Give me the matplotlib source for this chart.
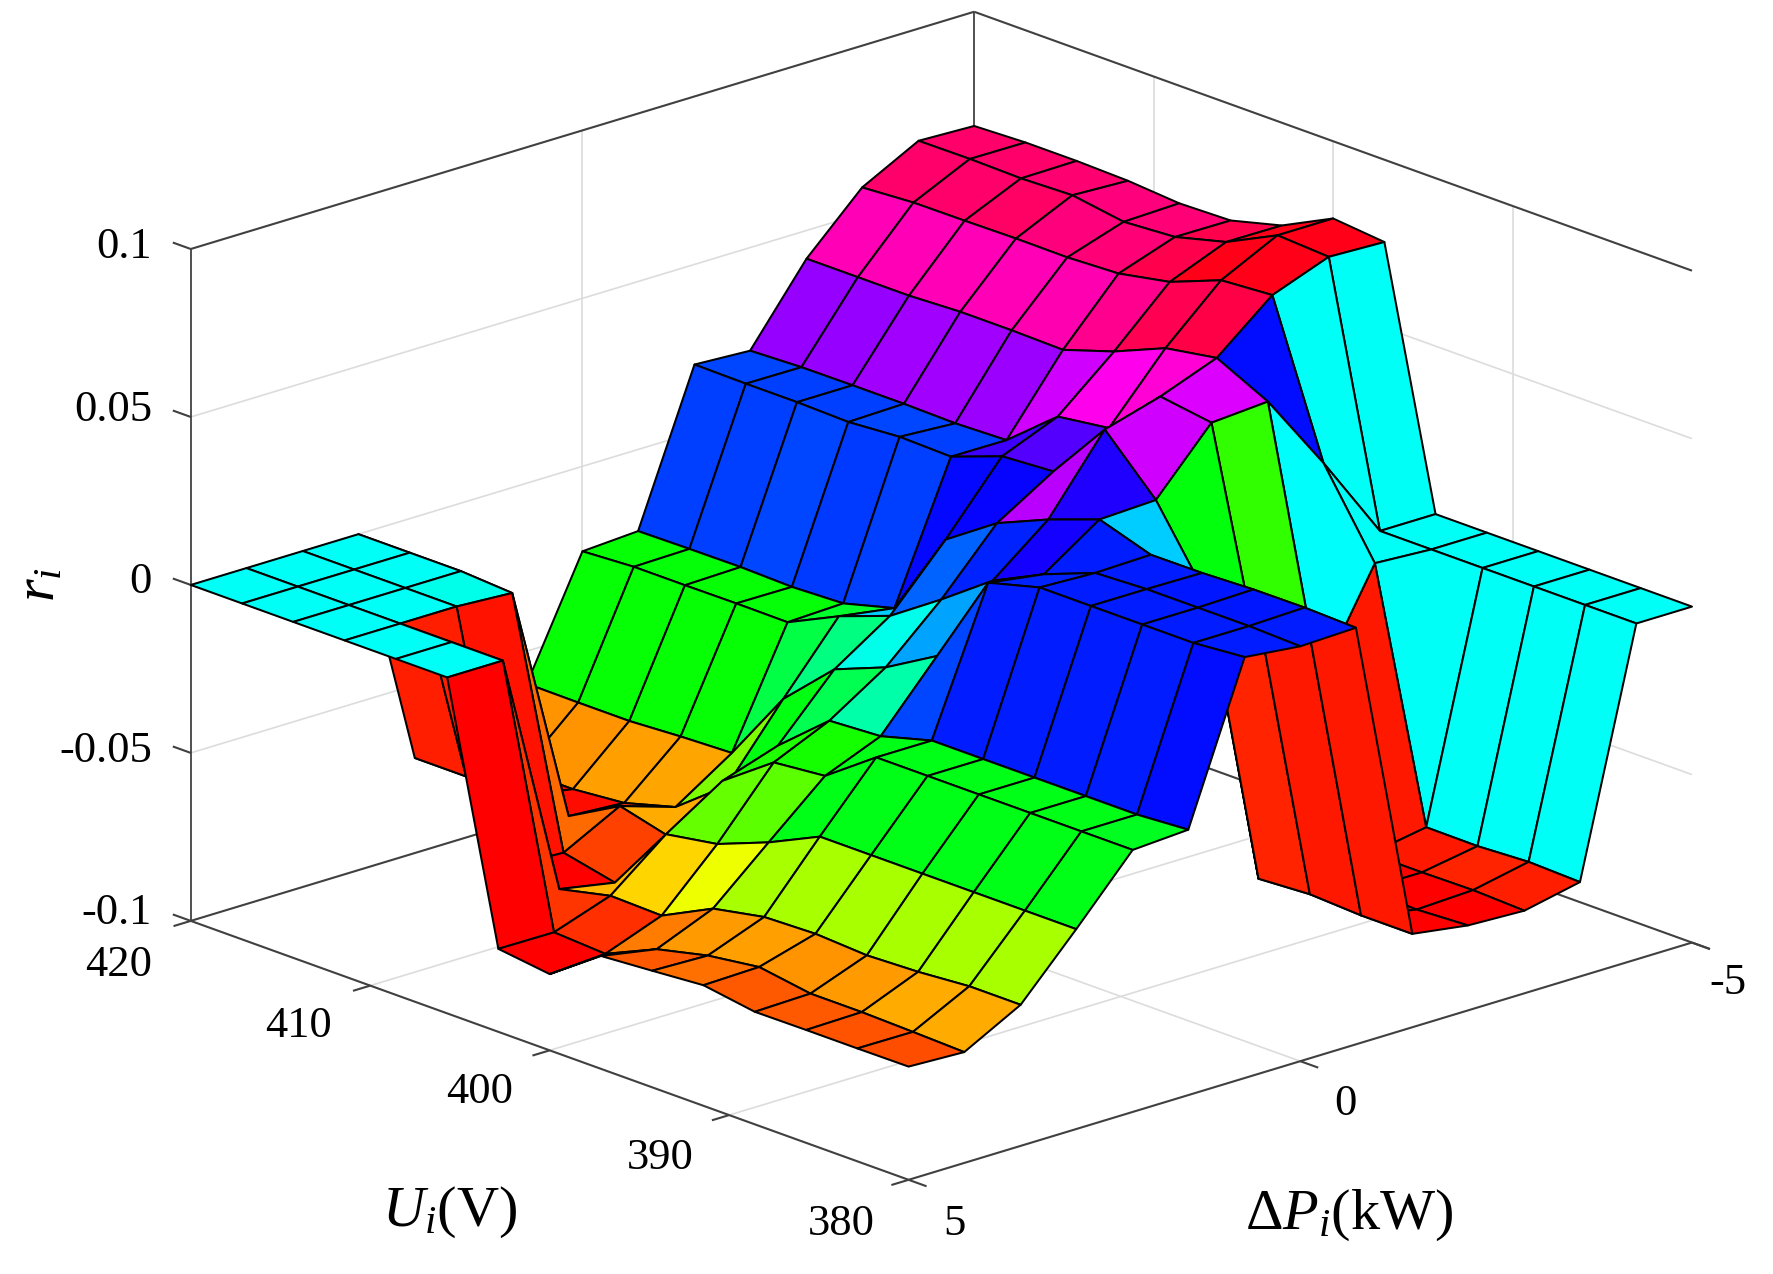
import matplotlib
matplotlib.use('Agg')
import matplotlib.pyplot as plt
import numpy as np
from mpl_toolkits.mplot3d import proj3d

plt.rcParams['font.family'] = ['Liberation Serif', 'DejaVu Serif']
plt.rcParams['mathtext.fontset'] = 'custom'
plt.rcParams['mathtext.rm'] = 'Liberation Serif'
plt.rcParams['mathtext.it'] = 'Liberation Serif:italic'

# mesh
U_grid = [420, 417.14, 414.29, 411.43, 408.57, 405.71, 402.86, 400,
          397.14, 394.29, 391.43, 388.57, 385.71, 382.86, 380]
dP_grid = [5, 4.29, 3.57, 2.86, 2.14, 1.43, 0.71, 0,
           -0.71, -1.43, -2.14, -2.86, -3.57, -4.29, -5]
# one row per U value, one column per dP value
ri_values = [
    [0, 0, 0, 0, -.0717, -.075, -.0597, -.0253, -.0243, .0202, .0193, .0416, .0578, .0666, .066],
    [0, 0, 0, 0, -.0717, -.075, -.0598, -.0244, -.0241, .02, .0199, .0416, .0588, .0667, .0666],
    [0, 0, 0, 0, -.072, -.075, -.0598, -.0244, -.024, .02, .02, .0416, .0589, .0664, .0666],
    [0, 0, 0, -.001, -.0725, -.0736, -.0589, -.0243, -.0244, .0196, .02, .0423, .0591, .0669, .0662],
    [0, 0, -.072, -.0728, -.064, -.0693, -.0583, -.0244, -.0238, .0207, .0197, .0423, .059, .0645, .065],
    [0, 0, -.0731, -.0762, -.068, -.0575, -.0367, -.0171, -.0197, .0203, .0202, .042, .0597, .0655, .0654],
    [-.0753, -.0754, -.0696, -.0563, -.0455, -.04, -.0224, -.0115, .0062, .0259, .0327, .047, .0627, .0695, .0694],
    [-.0773, -.0763, -.07, -.0537, -.0345, -.0271, -.0163, -.0011, .0166, .0269, .0348, .0535, .0687, .077, .077],
    [-.0664, -.0694, -.0624, -.0477, -.033, -.0262, -.0074, .01, .0232, .0449, .0497, .0561, .0698, .0761, .0755],
    [-.0653, -.0658, -.0594, -.0405, -.022, -.022, .0199, .0174, .0287, .0294, .0474, .0486, .0253, 0, 0],
    [-.0641, -.0637, -.0589, -.0405, -.022, -.022, .024, .0233, .0237, .006, -.023, -.0288, .001, 0, 0],
    [-.0665, -.0661, -.0598, -.0405, -.022, -.022, .024, .024, .0238, -.0723, -.075, -.075, -.0721, 0, 0],
    [-.0664, -.0661, -.0592, -.0405, -.022, -.022, .024, .024, .0244, -.0714, -.075, -.075, -.0722, 0, 0],
    [-.0664, -.0665, -.058, -.0405, -.022, -.022, .024, .024, .0245, -.0722, -.0755, -.0748, -.0714, 0, 0],
    [-.0663, -.067, -.058, -.0405, -.022, -.021, .0253, .0235, .024, -.0722, -.0747, -.0754, -.0719, 0, 0],
]

U_ticks = [420, 410, 400, 390, 380]
dP_ticks = [5, 0, -5]
ri_ticks = [-0.1, -0.05, 0, 0.05, 0.1]
ri_tick_labels = ['-0.1', '-0.05', '0', '0.05', '0.1']

W, H = 1773, 1274
fig = plt.figure(figsize=(W / 100, H / 100), dpi=100, facecolor='white')
ax = fig.add_axes([0, 0, H / W, 1], projection='3d', computed_zorder=False)
ax.set_proj_type('ortho')
ax.view_init(elev=19.3, azim=-42.5)
ax.set_box_aspect((1, 1, 0.67))
ax.set_axis_off()

UU, PP = np.meshgrid(U_grid, dP_grid, indexing='ij')
Z = np.array(ri_values)
# flat shading: each cell takes the colour of its far corner
norm = plt.Normalize(-0.075, 0.075, clip=True)
cols = matplotlib.colormaps['hsv'](norm(np.roll(Z, (-1, -1), axis=(0, 1))))
ax.plot_surface(UU, PP, Z, rstride=1, cstride=1, facecolors=cols, edgecolor='black',
                linewidth=1.45, shade=False, antialiased=True, zorder=2)

ax.set_xlim(420, 380)
ax.set_ylim(5, -5)
ax.set_zlim(-0.1, 0.1)

dark = '#404040'
grid = '#dcdcdc'


def line(xs, ys, zs, color=dark, lw=1.5, zorder=1):
    ax.plot(xs, ys, zs, color=color, lw=lw, zorder=zorder, solid_capstyle='butt')


# grid on the back walls and floor
for u in U_ticks[1:-1]:
    line([u, u], [-5, -5], [-0.1, 0.1], grid, 1.2)
    line([u, u], [5, -5], [-0.1, -0.1], grid, 1.2)
for p in dP_ticks[1:-1]:
    line([420, 420], [p, p], [-0.1, 0.1], grid, 1.2)
    line([420, 380], [p, p], [-0.1, -0.1], grid, 1.2)
for r in ri_ticks[1:-1]:
    line([420, 420], [5, -5], [r, r], grid, 1.2)
    line([420, 380], [-5, -5], [r, r], grid, 1.2)

# box edges
line([420, 420], [5, 5], [-0.1, 0.1], '#202020', 1.1)
line([420, 420], [-5, -5], [-0.1, 0.1], '#202020', 1.1)
line([420, 420], [5, -5], [0.1, 0.1])
line([420, 380], [-5, -5], [0.1, 0.1])
line([420, 420], [5, -5], [-0.1, -0.1])
line([420, 379], [-5, -5], [-0.1, -0.1])
line([420, 380], [5, 5], [-0.1, -0.1], zorder=3)
line([380, 380], [5, -5], [-0.1, -0.1], zorder=3)

# tick marks
for u in U_ticks:
    line([u, u], [5, 5.22], [-0.1, -0.1], zorder=3)
for p in dP_ticks:
    line([380, 379], [p, p], [-0.1, -0.1], zorder=3)
for r in ri_ticks:
    line([420, 421], [5, 5], [r, r])

# move the axes so the box lands where it is in the reference
box_3d = [(420, 5, -0.1), (380, 5, -0.1), (380, -5, -0.1), (420, -5, 0.1)]
box_px = np.array([(190, H - 921.5), (910, H - 1181.5), (1693, H - 938.5), (972.5, H - 13.5)])
fig.canvas.draw()
cx, cy, cz = np.array(box_3d).T
xs, ys, _ = proj3d.proj_transform(cx, cy, cz, ax.get_proj())
cur = ax.transData.transform(np.c_[xs, ys])
bb = ax.get_window_extent()
centre = np.array([(bb.x0 + bb.x1) / 2, (bb.y0 + bb.y1) / 2])
f = np.sum((box_px - box_px.mean(0)) * (cur - cur.mean(0))) / np.sum((cur - cur.mean(0)) ** 2)
side = bb.width * f
c2 = box_px.mean(0) - (cur.mean(0) - centre) * f
ax.set_position([(c2[0] - side / 2) / W, (c2[1] - side / 2) / H, side / W, side / H])


def label(px, py, s, size=32, **kw):
    fig.text(px / W, 1 - py / H, s, fontsize=size, ha='center', va='center', **kw)


# tick labels, placed from the reference (pixel centres)
for s, py in zip(ri_tick_labels, [913, 751, 582, 410, 247]):
    fig.text(152 / W, 1 - py / H, s, fontsize=32, ha='right', va='center')
for s, (px, py) in zip(map(str, U_ticks), [(119, 965), (299, 1026), (480, 1092), (660, 1158), (841, 1224)]):
    label(px, py, s)
for s, (px, py) in zip(map(str, dP_ticks), [(954, 1224), (1345, 1104), (1728, 983)]):
    label(px, py, s)

label(40, 585, r'$r_i$', 42, rotation=90)
label(450, 1212, r'$U_i$(V)', 42)
label(1349, 1215, 'Δ' + r'$P_i$(kW)', 42)

fig.savefig('out.png', dpi=100, facecolor='white')
